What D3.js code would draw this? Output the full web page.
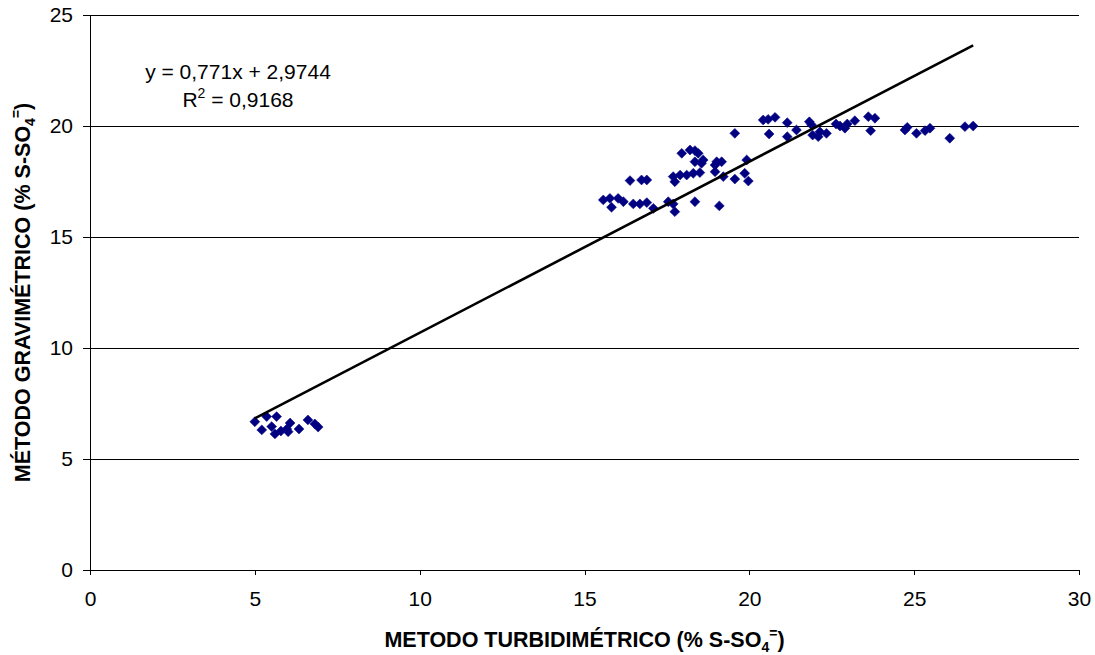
<!DOCTYPE html>
<html>
<head>
<meta charset="utf-8">
<script src="https://cdn.jsdelivr.net/npm/d3@7"></script>
<style>
  body { margin: 0; background: #fff; }
  text { font-family: "Liberation Sans", Arial, sans-serif; }
</style>
</head>
<body>
<script>
// turbidimetric (x) vs gravimetric (y), % S-SO4
var turbX = [
  5.00, 5.36, 5.66, 5.21, 5.51, 5.61, 5.97, 6.07, 6.01, 6.34, 6.61, 6.82, 6.92, 5.79,
  19.56, 20.60, 17.95, 18.20, 18.35, 18.45, 18.35, 18.60, 18.55, 19.01, 19.16, 18.96,
  16.38, 16.73, 16.89, 17.69, 17.74, 17.90, 18.10, 18.30, 18.50, 18.96, 19.21, 19.56,
  19.86, 19.97, 19.92, 15.57, 15.77, 15.82, 16.02, 16.18, 16.48, 16.68, 16.89, 17.09,
  17.54, 17.69, 17.74, 18.35, 19.09,
  20.42, 20.57, 20.78, 21.15, 21.15, 21.43, 21.82, 21.89, 21.92, 22.09, 22.14, 22.34,
  22.63, 22.75, 22.90, 22.97, 23.20, 23.61, 23.81, 23.68, 24.72, 24.79, 25.07, 25.33,
  25.48, 26.08, 26.54, 26.79
];
var gravY = [
  6.68, 6.91, 6.91, 6.31, 6.46, 6.13, 6.35, 6.62, 6.23, 6.35, 6.76, 6.58, 6.44, 6.26,
  19.67, 19.64, 18.77, 18.92, 18.89, 18.77, 18.39, 18.47, 18.32, 18.39, 18.39, 18.24,
  17.54, 17.57, 17.57, 17.72, 17.49, 17.79, 17.79, 17.87, 17.90, 17.94, 17.72, 17.61,
  17.87, 17.52, 18.47, 16.67, 16.74, 16.34, 16.74, 16.59, 16.49, 16.49, 16.55, 16.29,
  16.59, 16.49, 16.14, 16.59, 16.40,
  20.27, 20.30, 20.39, 20.15, 19.52, 19.82, 20.19, 20.05, 19.59, 19.52, 19.74, 19.67,
  20.09, 20.00, 19.90, 20.09, 20.24, 20.42, 20.35, 19.79, 19.82, 19.94, 19.67, 19.79,
  19.90, 19.45, 19.97, 20.00
];
var xTicks = [0, 5, 10, 15, 20, 25, 30];
var yTicks = [0, 5, 10, 15, 20, 25];
var slope = 0.771, intercept = 2.9744;
var eqLabel = "y = 0,771x + 2,9744";
var r2Value = "0,9168";

var points = turbX.map(function(x, i) { return {x: x, y: gravY[i]}; });

var width = 1095, height = 655;
var margin = {left: 90, right: 16, top: 15, bottom: 85};

var svg = d3.select("body").append("svg")
    .attr("width", width)
    .attr("height", height);

var x = d3.scaleLinear().domain([0, 30]).range([margin.left, width - margin.right]);
var y = d3.scaleLinear().domain([0, 25]).range([height - margin.bottom, margin.top]);

// gridlines
svg.append("g")
    .selectAll("line")
    .data(yTicks.filter(function(d) { return d > 0; }))
    .enter().append("line")
    .attr("x1", x(0)).attr("x2", x(30))
    .attr("y1", function(d) { return y(d); })
    .attr("y2", function(d) { return y(d); })
    .style("stroke", "#000")
    .style("stroke-width", 1)
    .attr("shape-rendering", "crispEdges");

// axes
var xAxis = svg.append("g")
    .attr("transform", "translate(0," + y(0) + ")")
    .call(d3.axisBottom(x).tickValues(xTicks).tickSize(5).tickPadding(16));
var yAxis = svg.append("g")
    .attr("transform", "translate(" + x(0) + ",0)")
    .call(d3.axisLeft(y).tickValues(yTicks).tickSize(7).tickPadding(10));

[xAxis, yAxis].forEach(function(a) {
    a.select(".domain").style("stroke", "#000").attr("shape-rendering", "crispEdges");
    a.selectAll(".tick line").style("stroke", "#000").attr("shape-rendering", "crispEdges");
    a.selectAll("text")
        .style("font-size", "21px")
        .style("font-family", "Liberation Sans, Arial, sans-serif")
        .style("fill", "#000");
});

// points
var diamond = d3.symbol().type(d3.symbolDiamond2).size(62);
svg.append("g")
    .selectAll("path")
    .data(points)
    .enter().append("path")
    .attr("d", diamond)
    .attr("transform", function(d) { return "translate(" + x(d.x) + "," + y(d.y) + ")"; })
    .style("fill", "#000080")
    .style("stroke", "#0a0a8a")
    .style("stroke-width", 0.6);

// trend line
var xMin = d3.min(turbX), xMax = d3.max(turbX);
svg.append("line")
    .attr("x1", x(xMin)).attr("y1", y(slope * xMin + intercept))
    .attr("x2", x(xMax)).attr("y2", y(slope * xMax + intercept))
    .style("stroke", "#000")
    .style("stroke-width", 2.6);

// equation
svg.append("text")
    .attr("x", 238).attr("y", 79)
    .attr("text-anchor", "middle")
    .style("font-size", "21px")
    .text(eqLabel);
var r2 = svg.append("text")
    .attr("x", 238).attr("y", 107)
    .attr("text-anchor", "middle")
    .style("font-size", "21px");
r2.append("tspan").text("R");
r2.append("tspan").attr("dy", -9).style("font-size", "14px").text("2");
r2.append("tspan").attr("dy", 9).text(" = " + r2Value);

// axis titles
var xt = svg.append("text")
    .attr("x", (x(0) + x(30)) / 2).attr("y", 647)
    .attr("text-anchor", "middle")
    .style("font-size", "21.5px")
    .style("font-weight", "bold")
    .text("METODO TURBIDIMÉTRICO (% S-SO");
xt.append("tspan").attr("dy", 5).style("font-size", "14px").text("4");
xt.append("tspan").attr("dy", -14).style("font-size", "14px").text("=");
xt.append("tspan").attr("dy", 9).text(")");

var yt = svg.append("text")
    .attr("transform", "translate(30," + ((y(0) + y(25)) / 2) + ") rotate(-90)")
    .attr("text-anchor", "middle")
    .style("font-size", "21.5px")
    .style("font-weight", "bold")
    .text("MÉTODO GRAVIMÉTRICO (% S-SO");
yt.append("tspan").attr("dy", 5).style("font-size", "14px").text("4");
yt.append("tspan").attr("dy", -14).style("font-size", "14px").text("=");
yt.append("tspan").attr("dy", 9).text(")");
</script>
</body>
</html>
